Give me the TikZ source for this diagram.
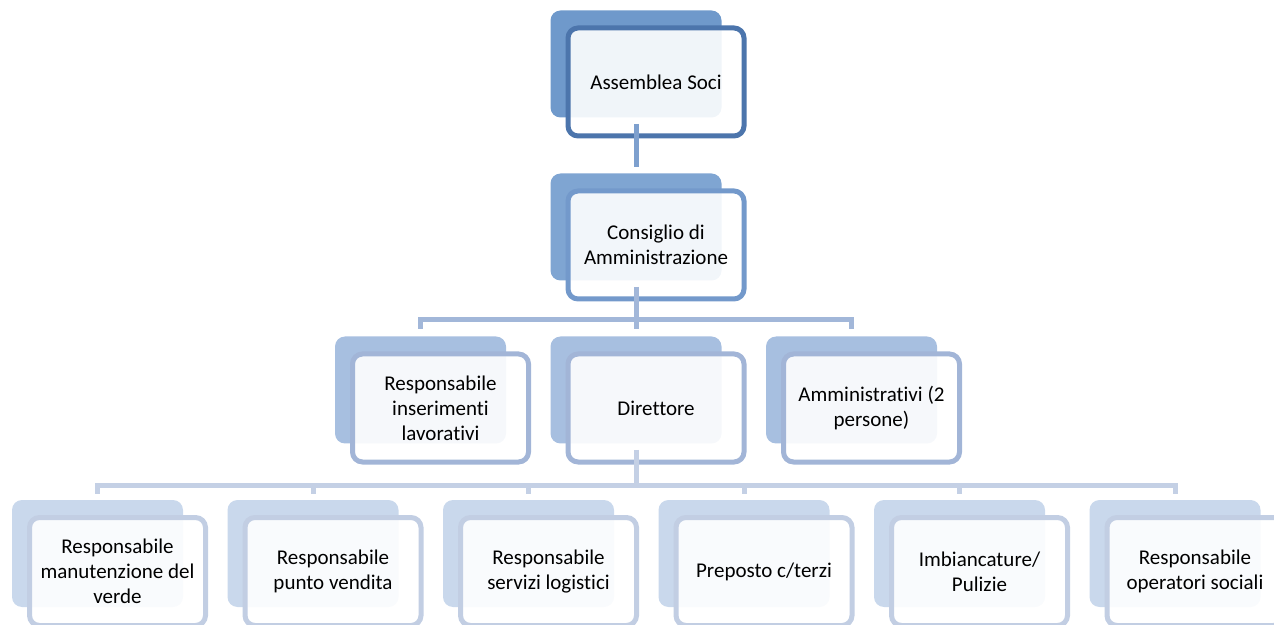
\documentclass[tikz,border=0pt]{standalone}
\usepackage{fontspec}
\setmainfont{Carlito}[Ligatures={NoCommon,NoContextual,NoRequired},Contextuals=NoAlternate]

\definecolor{backA}{HTML}{6F99CB}
\definecolor{backB}{HTML}{7FA5D2}
\definecolor{backC}{HTML}{A7BFE0}
\definecolor{backD}{HTML}{C9D8EC}
\definecolor{lineA}{HTML}{4C75AC}
\definecolor{lineB}{HTML}{7399CB}
\definecolor{lineC}{HTML}{A2B5D7}
\definecolor{lineD}{HTML}{C2CEE3}
\definecolor{connA}{HTML}{7EA0CE}
\definecolor{connB}{HTML}{A2B7D9}
\definecolor{connC}{HTML}{C4D0E5}

\begin{document}
\begin{tikzpicture}[x=0.5pt,y=-0.5pt,
  back/.style={fill=#1, rounded corners=5pt, inner sep=0pt,
    minimum width=85.5pt, minimum height=53.5pt},
  front/.style={draw=#1, line width=2.5pt, fill=white, fill opacity=0.9,
    text opacity=1, rounded corners=5pt, inner sep=0pt, align=center,
    minimum width=88pt, minimum height=54pt,
    font=\fontsize{10.5}{12.5}\selectfont},
  conn/.style={draw=#1, line width=2.5pt}]
  \useasboundingbox (0,0) rectangle (1274,625);
  \clip (0,0) rectangle (1274,625);

  % level 0 and 1
  \node[back=backA] (ASb) at (636,64) {};
  \node[front=lineA] (AS) at ([shift={(20,18)}]ASb) {Assemblea Soci};
  \node[back=backB] (CAb) at (636,227) {};
  \node[front=lineB] (CA) at ([shift={(20,18)}]CAb) {Consiglio di\\Amministrazione};

  % level 2
  \node[back=backC] (RIb) at (420.5,390) {};
  \node[front=lineC] (RI) at ([shift={(20,18)}]RIb) {Responsabile\\inserimenti\\lavorativi};
  \node[back=backC] (DIb) at (636,390) {};
  \node[front=lineC] (DI) at ([shift={(20,18)}]DIb) {Direttore};
  \node[back=backC] (AMb) at (851.5,390) {};
  \node[front=lineC] (AM) at ([shift={(20,18)}]AMb) {Amministrativi (2\\persone)};

  % level 3
  \node[back=backD] (RMb) at (97.5,553.5) {};
  \node[front=lineD] (RM) at ([shift={(20,18)}]RMb) {Responsabile\\manutenzione del\\verde};
  \node[back=backD] (RPb) at (313,553.5) {};
  \node[front=lineD] (RP) at ([shift={(20,18)}]RPb) {Responsabile\\punto vendita};
  \node[back=backD] (RSb) at (528.5,553.5) {};
  \node[front=lineD] (RS) at ([shift={(20,18)}]RSb) {Responsabile\\servizi logistici};
  \node[back=backD] (PCb) at (744,553.5) {};
  \node[front=lineD] (PC) at ([shift={(20,18)}]PCb) {Preposto c/terzi};
  \node[back=backD] (IPb) at (959.5,553.5) {};
  \node[front=lineD] (IP) at ([shift={(20,18)}]IPb) {Imbiancature/\\Pulizie};
  \node[back=backD] (ROb) at (1175,553.5) {};
  \node[front=lineD] (RO) at ([shift={(20,18)}]ROb) {Responsabile\\operatori sociali};

  % connectors
  \coordinate (barB) at (636,320);
  \coordinate (barC) at (636,485);
  \draw[conn=connA, shorten <=3pt, shorten >=3pt] (ASb.south) -- (CAb.north);
  \draw[conn=connB, shorten <=3pt] (CAb.south) -- (barB);
  \foreach \n in {RIb,DIb,AMb}
    \draw[conn=connB, shorten >=3.5pt] (barB) -| (\n.north);
  \draw[conn=connC, shorten <=3pt] (DIb.south) -- (barC);
  \foreach \n in {RMb,RPb,RSb,PCb,IPb,ROb}
    \draw[conn=connC, shorten >=3pt] (barC) -| (\n.north);

\end{tikzpicture}
\end{document}
